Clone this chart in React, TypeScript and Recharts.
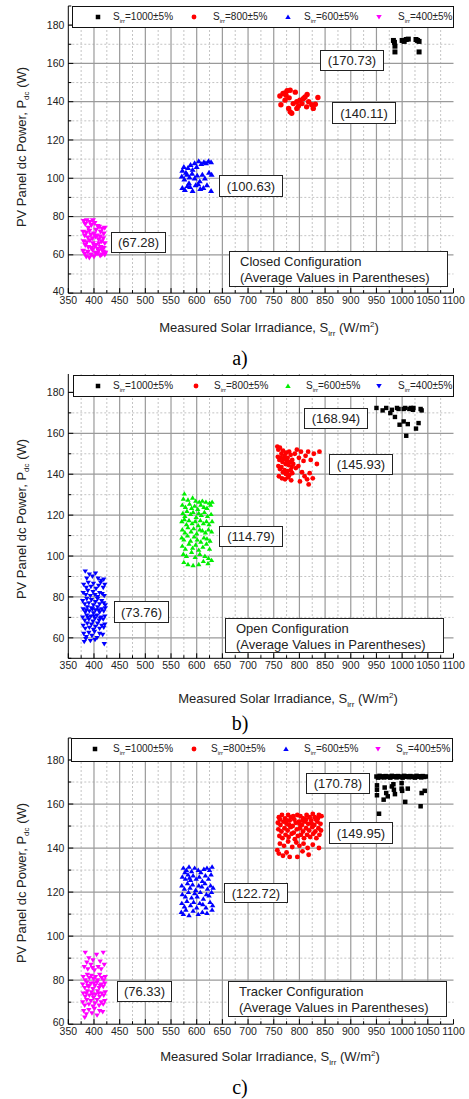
import React from 'react';
import { ScatterChart, Scatter, XAxis, YAxis, CartesianGrid } from 'recharts';

type P = [number, number];

// ---------- categories / labels ----------
const seriesLabels = ['1000±5%', '800±5%', '600±5%', '400±5%'];
const panelLetters = ['a)', 'b)', 'c)'];
const configNames = ['Closed Configuration', 'Open Configuration', 'Tracker Configuration'];
const avgClosed = ['(170.73)', '(140.11)', '(100.63)', '(67.28)'];
const avgOpen = ['(168.94)', '(145.93)', '(114.79)', '(73.76)'];
const avgTracker = ['(170.78)', '(149.95)', '(122.72)', '(76.33)'];

const xTicks = [350, 375, 400, 425, 450, 475, 500, 525, 550, 575, 600, 625, 650, 675, 700, 725, 750, 775, 800, 825, 850, 875, 900, 925, 950, 975, 1000, 1025, 1050, 1075, 1100];
const xMajorGrid = [400, 450, 500, 550, 600, 650, 700, 750, 800, 850, 900, 950, 1000, 1050];
const xMinorGrid = [375, 425, 475, 525, 575, 625, 675, 725, 775, 825, 875, 925, 975, 1025, 1075];
const yTicksA = [40, 50, 60, 70, 80, 90, 100, 110, 120, 130, 140, 150, 160, 170, 180, 190];
const yTicksB = [50, 60, 70, 80, 90, 100, 110, 120, 130, 140, 150, 160, 170, 180];
const yTicksC = [60, 70, 80, 90, 100, 110, 120, 130, 140, 150, 160, 170, 180, 190];
const yMajorA = [60, 80, 100, 120, 140, 160, 180];
const yMinorA = [50, 70, 90, 110, 130, 150, 170];
const yMajorB = [60, 80, 100, 120, 140, 160, 180];
const yMinorB = [70, 90, 110, 130, 150, 170];
const yMajorC = [80, 100, 120, 140, 160, 180];
const yMinorC = [70, 90, 110, 130, 150, 170];

// ---------- a) Closed configuration ----------
const closed1000: P[] = [[983, 172], [985, 171], [986, 169], [986, 166], [1000, 172], [1004, 171.5], [1008, 172.5], [1012, 172.7], [1027, 172.5], [1030, 172], [1033, 171.5], [1033, 166]];
const closed800: P[] = [[762, 143], [768, 144.3], [772, 144.6], [776, 145.7], [782, 146], [792, 145], [764, 138.4], [772, 140.8], [779, 136.5], [782, 134.7], [785, 134], [788, 139], [795, 140], [798, 137.7], [805, 139], [811, 142.5], [815, 143.8], [808, 141.7], [818, 140], [824, 138.4], [827, 136.5], [831, 138.7], [836, 142.2], [774, 143.4], [780, 142], [801, 140.8], [795, 136.5], [814, 137.3]];
const closed600: P[] = [[572, 104], [575, 106], [579, 103], [583, 105.5], [588, 107], [592, 104.5], [596, 108], [600, 106], [604, 109], [609, 107.5], [614, 108.5], [618, 108], [623, 109], [628, 108.5],
  [571, 101], [576, 99.5], [581, 102], [586, 100.5], [591, 102.5], [596, 100], [601, 101.5], [606, 98.5], [611, 102], [616, 100], [624, 103], [629, 102],
  [572, 95], [577, 94], [582, 96], [587, 95.5], [592, 93.5], [598, 96.5], [603, 97], [613, 95], [620, 96.5], [628, 93.5], [585, 97.5], [607, 94.5]];
const closed400: P[] = [[380, 77.5], [383, 76], [386, 78], [389, 74], [392, 77], [395, 75.5], [398, 78], [401, 76.5], [404, 73], [407, 75], [410, 74.5], [413, 72], [416, 73.5], [419, 71], [421, 74],
  [379, 72], [382, 70], [385, 71.5], [388, 69], [391, 72.5], [394, 70.5], [397, 68.5], [400, 71], [403, 69.5], [406, 70], [409, 68], [412, 69.5], [415, 67], [418, 68.5], [421, 66],
  [380, 67], [383, 65], [386, 66.5], [389, 64], [392, 67.5], [395, 63.5], [398, 66], [401, 64.5], [404, 65], [407, 63], [410, 66], [413, 64], [416, 62.5], [419, 63.5], [422, 61],
  [379, 62], [382, 60.5], [385, 59], [388, 61.5], [391, 58.5], [394, 60], [397, 62.5], [400, 59], [403, 61], [406, 60.5], [409, 62], [412, 59.5], [415, 60], [418, 61.5], [421, 60]];

// ---------- b) Open configuration ----------
const open1000: P[] = [[950, 172.4], [962, 171.2], [969, 172.4], [977, 169.9], [986, 168], [990, 172.4], [993, 171.9], [995, 164.2], [1003, 165.8], [1006, 172.4], [1008, 158.8], [1011, 164.5], [1014, 171.9], [1017, 172.4], [1021, 171.5], [1022, 172.4], [1027, 162.3], [1032, 165], [1036, 171.9], [1038, 171.2], [1003, 171.9], [980, 171.5]];
const open800: P[] = [[757, 153.5], [759, 152], [762, 153], [765, 150], [768, 151.5], [771, 149], [774, 150.5], [777, 148], [780, 151], [783, 149.5], [786, 147],
  [758, 148.5], [761, 147], [764, 148], [767, 146], [770, 147.5], [773, 145], [776, 146.5], [779, 144.5], [782, 146], [785, 143.5], [788, 145],
  [759, 144], [762, 142.5], [765, 143.5], [768, 141], [771, 142], [774, 140], [777, 141.5], [780, 139.5], [783, 142], [786, 140.5],
  [760, 139], [766, 138], [772, 137.5], [778, 138.5], [784, 137],
  [791, 150], [795, 152], [799, 148], [803, 151], [808, 146.5], [812, 149], [817, 151], [822, 147], [828, 150], [834, 145], [839, 151],
  [793, 143], [798, 144], [805, 141], [810, 139], [815, 137.5], [820, 140.5], [826, 138], [818, 135], [801, 136.5]];
const open600: P[] = [[576, 130.5],
  [574, 128], [583, 127.5], [592, 128.5], [598, 127], [605, 126.5], [611, 127], [618, 126.5], [625, 126], [630, 126.5],
  [572, 125], [578, 124], [586, 125.5], [590, 123.5], [596, 124.5], [602, 123], [608, 125], [614, 124], [620, 123.5], [627, 125],
  [573, 121], [577, 119.5], [581, 122], [588, 120.5], [593, 121.5], [599, 119], [604, 121], [609, 120], [615, 121.5], [621, 119.5], [628, 120.5],
  [571, 117], [576, 118], [580, 115.5], [585, 117.5], [591, 116], [597, 117], [603, 115], [607, 117.5], [613, 116], [619, 117], [624, 115.5], [630, 117],
  [572, 113], [577, 111.5], [583, 114], [589, 112], [594, 113.5], [600, 111], [606, 113], [611, 112.5], [617, 111.5], [623, 113], [629, 112],
  [571, 109], [575, 108], [582, 110], [588, 107.5], [595, 109.5], [601, 108], [608, 107], [614, 109], [620, 108.5], [626, 107.5],
  [572, 105], [578, 103.5], [585, 106], [592, 104], [598, 105.5], [604, 103], [612, 104.5], [619, 106], [625, 103.5],
  [574, 101], [580, 100], [590, 102], [597, 99.5], [606, 101], [616, 100], [623, 99],
  [575, 97], [583, 96], [593, 95.5], [604, 96], [613, 97.5], [622, 96.5], [629, 98]];
const open400: P[] = [[383, 92.5], [391, 91], [397, 90], [403, 91.5], [408, 89], [414, 88], [419, 88.5], [386, 89],
  [380, 86], [385, 84.5], [389, 87], [394, 85], [399, 86.5], [404, 84], [409, 85.5], [413, 87], [418, 84.5], [421, 86],
  [379, 82], [384, 81], [388, 83], [393, 80.5], [398, 82.5], [402, 81], [407, 80], [411, 82], [416, 81.5], [420, 80.5],
  [378, 78], [382, 76.5], [386, 79], [390, 77], [395, 78.5], [399, 76], [403, 77.5], [407, 79], [411, 76.5], [415, 78], [419, 77], [422, 76],
  [379, 74], [383, 72.5], [387, 75], [391, 73], [395, 74.5], [399, 72], [403, 73.5], [407, 75], [411, 72.5], [415, 74], [419, 73], [422, 74.5], [385, 73.5], [397, 74], [409, 73.5],
  [378, 70], [382, 68.5], [386, 71], [390, 69], [394, 70.5], [398, 68], [402, 69.5], [406, 71], [410, 68.5], [414, 70], [418, 69], [421, 70.5], [388, 70], [400, 70.5], [412, 69.5],
  [379, 66], [383, 64.5], [387, 67], [391, 65], [395, 66.5], [399, 64], [403, 65.5], [407, 67], [411, 64.5], [415, 66], [419, 65], [421, 66.5],
  [380, 62], [385, 60.5], [390, 62.5], [396, 61], [401, 63], [406, 60], [411, 62], [417, 61.5],
  [381, 58], [384, 59.5], [393, 58.5], [402, 59], [420, 57]];

// ---------- c) Tracker configuration ----------
const tracker1000: P[] = [[950, 172.5], [953, 172], [956, 172.8], [959, 172.2], [962, 172.6], [965, 172.1], [968, 172.7], [971, 172.3], [974, 172.5], [977, 172], [980, 172.8], [983, 172.4], [986, 172.6], [989, 172.1], [992, 172.7], [995, 172.3], [998, 172.5], [1001, 172], [1004, 172.8], [1007, 172.4], [1010, 172.6], [1013, 172.2], [1016, 172.7], [1019, 172.3], [1022, 172.5], [1025, 172], [1028, 172.8], [1031, 172.4], [1034, 172.6], [1037, 172.1], [1040, 172.7], [1043, 172.3], [1046, 172.5],
  [951, 168.5], [951, 166.5], [951, 164], [955, 155.6], [966, 167.5], [969, 165], [964, 162], [972, 163.5], [980, 168], [983, 169], [984, 166.5], [986, 164.5], [999, 169.5], [999, 167], [1000, 166], [1006, 161], [1011, 167], [1036, 159], [1038, 165], [1044, 166]];
const tracker800: P[] = [[760, 154], [766, 155], [772, 153.5], [778, 155], [784, 154], [790, 153], [796, 155], [802, 154.5], [808, 153.5], [814, 155], [820, 154], [826, 155.5], [832, 153], [838, 155], [843, 154.5],
  [758, 151.5], [763, 150.5], [769, 152], [775, 151], [781, 152.5], [787, 150], [793, 151.5], [799, 152], [805, 150.5], [811, 152], [817, 151], [823, 152.5], [829, 150.5], [835, 152], [841, 151],
  [762, 153], [775, 152.5], [788, 154.5], [800, 151], [813, 153], [824, 151], [836, 153.5], [780, 150.5], [806, 152.5], [830, 154],
  [759, 148.5], [765, 147.5], [771, 149], [777, 148], [783, 149.5], [789, 147], [795, 148.5], [801, 149], [807, 147.5], [813, 149], [819, 148], [825, 149.5], [831, 147.5], [837, 149], [842, 148],
  [761, 145.5], [767, 144.5], [773, 146], [779, 145], [785, 146.5], [791, 144], [797, 145.5], [803, 146], [809, 144.5], [815, 146], [821, 145], [827, 146.5], [833, 144.5], [839, 146],
  [762, 142], [770, 141], [778, 143], [786, 140.5], [794, 142.5], [800, 141], [808, 142], [816, 140], [826, 141.5], [838, 140],
  [757, 139], [760, 137.5], [768, 136.5], [775, 138], [781, 136], [796, 136], [806, 138.5], [818, 137]];
const tracker600: P[] = [[574, 131], [580, 130], [585, 131.5], [590, 129.5], [596, 131], [603, 130], [608, 129], [614, 130.5], [620, 131], [625, 130], [630, 131.5], [577, 129],
  [572, 127], [578, 126], [583, 128], [588, 125.5], [593, 127.5], [599, 126], [605, 127], [611, 125], [617, 127.5], [623, 126], [628, 128], [586, 126.5],
  [571, 123], [576, 121.5], [582, 124], [587, 122], [592, 123.5], [598, 121], [604, 123], [610, 122.5], [616, 124], [621, 121.5], [627, 123], [632, 122],
  [572, 119], [578, 118], [584, 120], [590, 117.5], [596, 119.5], [601, 118], [607, 120], [613, 117], [619, 119], [624, 118.5], [629, 120],
  [571, 115], [576, 113.5], [581, 116], [588, 114], [594, 115.5], [600, 113], [606, 115], [612, 114.5], [618, 113], [626, 115.5], [631, 114],
  [570, 111], [574, 110], [579, 112], [585, 109.5], [593, 111.5], [603, 110], [611, 111], [620, 110.5], [630, 112]];
const tracker400: P[] = [[383, 92.5], [390, 90], [398, 89], [405, 91.5], [412, 88.5], [418, 92.5], [386, 88],
  [381, 86], [388, 85], [394, 87], [401, 84.5], [408, 86], [414, 85], [420, 87], [397, 85.5],
  [379, 81.5], [383, 80], [387, 82.5], [391, 81], [395, 82], [399, 80.5], [403, 81.5], [407, 80], [411, 82.5], [415, 81], [419, 80], [422, 81.5],
  [378, 78], [382, 76.5], [386, 79], [390, 77], [394, 78.5], [398, 76], [402, 77.5], [406, 79], [410, 76.5], [414, 78], [418, 77], [421, 78.5], [388, 77.5], [400, 78.5], [412, 77.5],
  [379, 74], [383, 72.5], [387, 75], [391, 73], [395, 74.5], [399, 72], [403, 73.5], [407, 75], [411, 72.5], [415, 74], [419, 73], [422, 74.5], [385, 74], [397, 73.5], [409, 74],
  [378, 70], [382, 68.5], [386, 71], [390, 69], [394, 70.5], [398, 68], [402, 69.5], [406, 71], [410, 68.5], [414, 70], [418, 69], [421, 70.5],
  [380, 66], [385, 64.5], [390, 66.5], [396, 65], [401, 67], [406, 64], [411, 66], [417, 65.5], [382, 63]];

// ---------- styling ----------
const FONT = "'Liberation Sans', Arial, Helvetica, sans-serif";
const SERIF = "'Liberation Serif', 'Times New Roman', serif";
const shapes = ['square', 'circle', 'up', 'down'];
const colorsA = ['#000000', '#ff0000', '#0000ff', '#ff00ff'];
const colorsB = ['#000000', '#ff0000', '#00ee00', '#0000ff'];
const colorsC = ['#000000', '#ff0000', '#0000ff', '#ff00ff'];

const toPts = (arr: P[]) => arr.map(([x, y]) => ({ x, y }));

const markerPath = (kind: string, cx: number, cy: number, s: number, color: string) => {
  if (kind === 'square') return <rect x={cx - s / 2} y={cy - s / 2} width={s} height={s} fill={color} />;
  if (kind === 'circle') return <circle cx={cx} cy={cy} r={s / 2 + 0.2} fill={color} />;
  const h = s * 0.55;
  if (kind === 'up') return <path d={`M${cx},${cy - h}L${cx + h * 1.1},${cy + h * 0.8}L${cx - h * 1.1},${cy + h * 0.8}Z`} fill={color} />;
  return <path d={`M${cx},${cy + h}L${cx + h * 1.1},${cy - h * 0.8}L${cx - h * 1.1},${cy - h * 0.8}Z`} fill={color} />;
};

const makeShape = (kind: string, color: string, s: number) => (props: any) => {
  const { cx, cy } = props;
  if (cx == null || cy == null) return <g />;
  return markerPath(kind, cx, cy, s, color);
};

const XTickBottom = (props: any) => {
  const { x, y, payload } = props;
  const major = payload.value % 50 === 0;
  return (
    <g>
      <line x1={x} x2={x} y1={y} y2={y - (major ? 5 : 3)} stroke="#000" strokeWidth={1} />
      {major && (
        <text x={x} y={y + 3} dy="0.71em" textAnchor="middle" fontSize={10.5} fontFamily={FONT} fill="#222">
          {payload.value}
        </text>
      )}
    </g>
  );
};
const XTickTop = (props: any) => {
  const { x, y, payload } = props;
  const major = payload.value % 50 === 0;
  return <line x1={x} x2={x} y1={y} y2={y + (major ? 5 : 3)} stroke="#000" strokeWidth={1} />;
};
const YTickLeft = (props: any) => {
  const { x, y, payload, index } = props;
  const major = payload.value % 20 === 0;
  const lift = index === 0 ? 2 : 0;
  return (
    <g>
      <line x1={x} x2={x + (major ? 5 : 3)} y1={y} y2={y} stroke="#000" strokeWidth={1} />
      {major && (
        <text x={x - 4} y={y - lift} dy="0.35em" textAnchor="end" fontSize={10.5} fontFamily={FONT} fill="#222">
          {payload.value}
        </text>
      )}
    </g>
  );
};
const YTickRight = (props: any) => {
  const { x, y, payload } = props;
  const major = payload.value % 20 === 0;
  return <line x1={x} x2={x - (major ? 5 : 3)} y1={y} y2={y} stroke="#000" strokeWidth={1} />;
};

type PanelCfg = {
  plotTop: number;
  plotBottom: number;
  yDomain: [number, number];
  yTicks: number[];
  yMajor: number[];
  yMinor: number[];
  series: P[][];
  colors: string[];
  size: number;
  avgs: string[];
  avgBoxes: [number, number, number, number][];
  configBox: [number, number, number, number];
  config: string;
  legend: { top: number; left: number; right: number; height: number; marks: number[]; texts: number[] };
  yLabelCy: number;
  xTitleCx: number;
  xTitleCy: number;
  letter: string;
  letterCy: number;
};

const panels: PanelCfg[] = [
  {
    plotTop: 5.9, plotBottom: 293, yDomain: [40, 190], yTicks: yTicksA, yMajor: yMajorA, yMinor: yMinorA,
    series: [closed1000, closed800, closed600, closed400], colors: colorsA, size: 5,
    avgs: avgClosed,
    avgBoxes: [[320, 50, 64, 21], [332, 102, 64, 22], [219, 175, 64, 22], [111, 232, 55, 21]],
    configBox: [229, 251, 219, 36], config: configNames[0],
    legend: { top: 5.9, left: 72, right: 453.5, height: 22.5, marks: [97, 193, 287, 378], texts: [112, 212, 303, 397] },
    yLabelCy: 147, xTitleCx: 269, xTitleCy: 329, letter: panelLetters[0], letterCy: 358,
  },
  {
    plotTop: 374, plotBottom: 658.3, yDomain: [50, 189], yTicks: yTicksB, yMajor: yMajorB, yMinor: yMinorB,
    series: [open1000, open800, open600, open400], colors: colorsB, size: 4.4,
    avgs: avgOpen,
    avgBoxes: [[304, 408, 64, 21], [329, 454, 64, 21], [219, 526, 64, 21], [114, 601, 55, 22]],
    configBox: [225, 618, 219, 35], config: configNames[1],
    legend: { top: 375, left: 72.5, right: 454, height: 22, marks: [97, 195, 287, 378], texts: [112, 213, 305, 397] },
    yLabelCy: 519, xTitleCx: 288, xTitleCy: 700, letter: panelLetters[1], letterCy: 723,
  },
  {
    plotTop: 738.3, plotBottom: 1024.5, yDomain: [60, 190], yTicks: yTicksC, yMajor: yMajorC, yMinor: yMinorC,
    series: [tracker1000, tracker800, tracker600, tracker400], colors: colorsC, size: 4.5,
    avgs: avgTracker,
    avgBoxes: [[306, 773, 64, 21], [329, 822, 64, 22], [224, 883, 64, 20], [117, 981, 55, 21]],
    configBox: [228, 981, 219, 36], config: configNames[2],
    legend: { top: 738.3, left: 71, right: 452.5, height: 23.4, marks: [94, 193, 285, 377], texts: [112, 210, 303, 395] },
    yLabelCy: 883, xTitleCx: 270, xTitleCy: 1058, letter: panelLetters[2], letterCy: 1087,
  },
];

const MARGIN_TOP = 5;
const X_AXIS_H = 22;

const Panel = ({ cfg }: { cfg: PanelCfg }) => {
  const plotH = cfg.plotBottom - cfg.plotTop;
  const chartH = plotH + MARGIN_TOP + X_AXIS_H;
  const lg = cfg.legend;
  return (
    <>
      <div style={{ position: 'absolute', left: 0, top: cfg.plotTop - MARGIN_TOP }}>
        <ScatterChart width={469} height={chartH} margin={{ top: MARGIN_TOP, right: 15.5, bottom: 0, left: 28.3 }}>
          <CartesianGrid xAxisId="b" yAxisId="l" stroke="#c4c4c4" strokeDasharray="2 2" verticalValues={xMinorGrid} horizontalValues={cfg.yMinor} />
          <CartesianGrid xAxisId="b" yAxisId="l" stroke="#9a9a9a" strokeWidth={1.2} verticalValues={xMajorGrid} horizontalValues={cfg.yMajor} />
          <XAxis xAxisId="b" type="number" dataKey="x" domain={[350, 1100]} ticks={xTicks} interval={0} allowDataOverflow
            height={X_AXIS_H} tickSize={0} tickMargin={0} tick={<XTickBottom />} axisLine={{ stroke: '#000' }} tickLine={false} />
          <XAxis xAxisId="t" orientation="top" type="number" domain={[350, 1100]} ticks={xTicks} interval={0} allowDataOverflow
            height={0} tickSize={0} tickMargin={0} tick={<XTickTop />} axisLine={{ stroke: '#000' }} tickLine={false} />
          <YAxis yAxisId="l" type="number" dataKey="y" domain={cfg.yDomain} ticks={cfg.yTicks} interval={0} allowDataOverflow
            width={40} tickSize={0} tickMargin={0} tick={<YTickLeft />} axisLine={{ stroke: '#000' }} tickLine={false} />
          <YAxis yAxisId="r" orientation="right" type="number" domain={cfg.yDomain} ticks={cfg.yTicks} interval={0} allowDataOverflow
            width={0} tickSize={0} tickMargin={0} tick={<YTickRight />} axisLine={{ stroke: '#000' }} tickLine={false} />
          {cfg.series.map((s, i) => (
            <Scatter key={i} name={seriesLabels[i]} xAxisId="b" yAxisId="l" data={toPts(s)} fill={cfg.colors[i]}
              shape={makeShape(shapes[i], cfg.colors[i], cfg.size)} isAnimationActive={false} />
          ))}
        </ScatterChart>
      </div>
      {/* legend */}
      <div style={{ position: 'absolute', left: lg.left, top: lg.top, width: lg.right - lg.left, height: lg.height, border: '1px solid #111', background: '#fff', boxSizing: 'border-box' }}>
        {seriesLabels.map((lab, i) => (
          <React.Fragment key={i}>
            <svg width={10} height={10} style={{ position: 'absolute', left: lg.marks[i] - lg.left - 5, top: lg.height / 2 - 6.5 }}>
              {markerPath(shapes[i], 5, 5, 4.5, cfg.colors[i])}
            </svg>
            <div style={{ position: 'absolute', left: lg.texts[i] - lg.left, top: lg.height / 2 - 7.5, fontFamily: FONT, fontSize: 10, color: '#222', whiteSpace: 'nowrap', lineHeight: '12px' }}>
              S<span style={{ fontSize: 6, position: 'relative', top: 3 }}>irr</span>={lab}
            </div>
          </React.Fragment>
        ))}
      </div>
      {/* average value boxes */}
      {cfg.avgBoxes.map((b, i) => (
        <div key={i} style={{ position: 'absolute', left: b[0], top: b[1], width: b[2], height: b[3], border: '1px solid #222', background: '#fff', boxSizing: 'border-box', display: 'flex', alignItems: 'center', justifyContent: 'center', fontFamily: FONT, fontSize: 13, color: '#222' }}>
          {cfg.avgs[i]}
        </div>
      ))}
      {/* configuration box */}
      <div style={{ position: 'absolute', left: cfg.configBox[0], top: cfg.configBox[1], width: cfg.configBox[2], height: cfg.configBox[3], border: '1px solid #222', background: '#fff', boxSizing: 'border-box', fontFamily: FONT, fontSize: 13, color: '#222', lineHeight: '16px', padding: '2px 0 0 10px', whiteSpace: 'nowrap' }}>
        <div>{cfg.config}</div>
        <div>(Average Values in Parentheses)</div>
      </div>
      {/* y label */}
      <div style={{ position: 'absolute', left: 23, top: cfg.yLabelCy, transform: 'translate(-50%, -50%) rotate(-90deg)', fontFamily: FONT, fontSize: 13, color: '#222', whiteSpace: 'nowrap', lineHeight: '16px' }}>
        PV Panel dc Power, P<span style={{ fontSize: 8, position: 'relative', top: 3 }}>dc</span> (W)
      </div>
      {/* x title */}
      <div style={{ position: 'absolute', left: cfg.xTitleCx, top: cfg.xTitleCy, transform: 'translate(-50%, -50%)', fontFamily: FONT, fontSize: 13, color: '#222', whiteSpace: 'nowrap', lineHeight: '16px' }}>
        Measured Solar Irradiance, S<span style={{ fontSize: 8, position: 'relative', top: 4 }}>irr</span> (W/m<span style={{ fontSize: 8, position: 'relative', top: -5 }}>2</span>)
      </div>
      {/* caption */}
      <div style={{ position: 'absolute', left: 240, top: cfg.letterCy, transform: 'translate(-50%, -50%)', fontFamily: SERIF, fontSize: 20, color: '#000', whiteSpace: 'nowrap', lineHeight: '20px' }}>
        {cfg.letter}
      </div>
    </>
  );
};

export default function App() {
  return (
    <div style={{ position: 'absolute', left: 0, top: 0, width: 469, height: 1099, background: '#fff', overflow: 'hidden' }}>
      {panels.map((p, i) => (
        <Panel key={i} cfg={p} />
      ))}
    </div>
  );
}
